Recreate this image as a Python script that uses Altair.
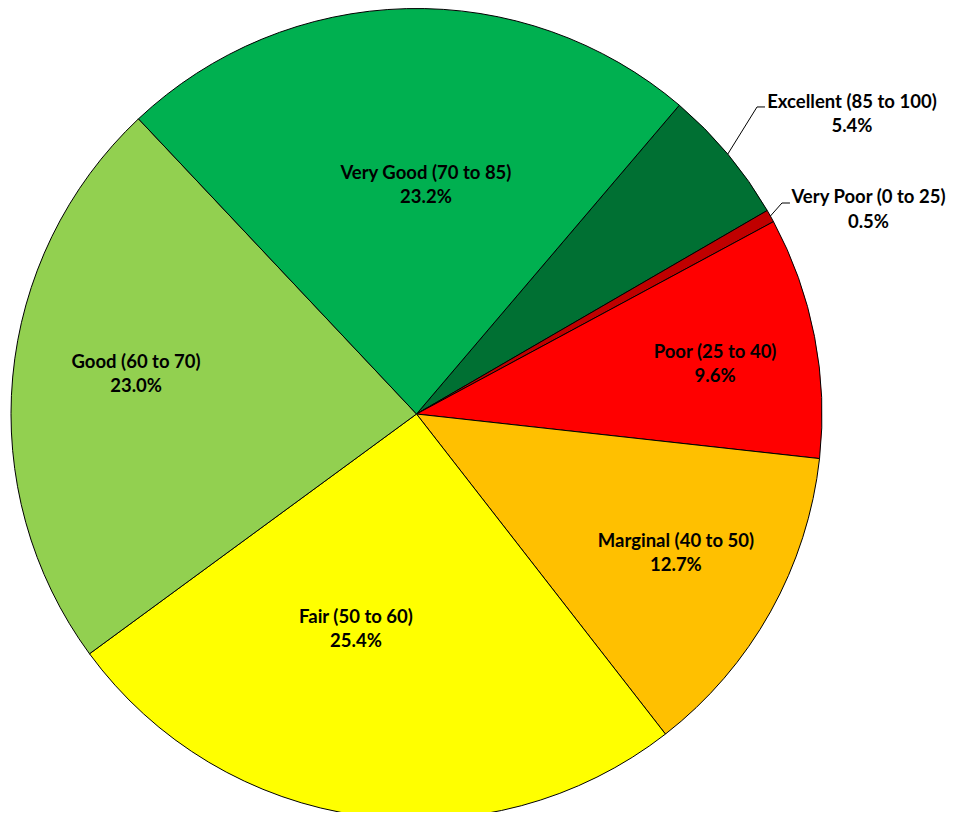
import math
import altair as alt
import pandas as pd

# ---- data ----
categories = ["Excellent (85 to 100)", "Very Poor (0 to 25)", "Poor (25 to 40)",
              "Marginal (40 to 50)", "Fair (50 to 60)", "Good (60 to 70)",
              "Very Good (70 to 85)"]
percents = [5.4, 0.5, 9.6, 12.7, 25.4, 23.0, 23.2]
colors = ["#007033", "#C00000", "#FF0000", "#FFC000", "#FFFF00", "#92D050", "#00B050"]

# ---- layout ----
W, H = 817, 812
R = 405.5
START_DEG = 40.4
LINE_H = 24.5
label_dtheta = [5.3, 4.9, 1.5, -1.0, 7.8, 2.9, 3.8]      # degrees from slice middle
label_radius = [528.8, 496.0, 302.7, 294.4, 223.3, 283.3, 229.2]
leader = {0: (458.5, 47.96), 1: (422.0, 60.0)}            # elbow (radius, deg)

total = sum(percents)
start = math.radians(START_DEG)

df = pd.DataFrame({"cat": categories, "pct": percents, "order": range(len(categories))})

rows = []
cum = 0.0
mids = []
for i, (c, p) in enumerate(zip(categories, percents)):
    mid = START_DEG + (cum + p / 2) / total * 360
    mids.append(mid)
    cum += p
    rows.append({"text": f"{c}\n{p:.1f}%", "theta": math.radians(mid + label_dtheta[i]),
                 "r": label_radius[i]})
lab = pd.DataFrame(rows)

def pt(r, deg):
    a = math.radians(deg)
    return W / 2 + r * math.sin(a), H / 2 - r * math.cos(a)

lines = []
for i, (er, edeg) in leader.items():
    x0, y0 = pt(R, mids[i])
    x1, y1 = pt(er, edeg)
    lines += [{"k": i, "s": 0, "x": x0, "y": y0},
              {"k": i, "s": 1, "x": x1, "y": y1},
              {"k": i, "s": 2, "x": x1 + 8, "y": y1}]
ld = pd.DataFrame(lines)

pie = alt.Chart(df).mark_arc(outerRadius=R, stroke="black", strokeWidth=1).encode(
    theta=alt.Theta("pct:Q", stack=True,
                    scale=alt.Scale(range=[start, start + 2 * math.pi])),
    color=alt.Color("cat:N", scale=alt.Scale(domain=categories, range=colors), legend=None),
    order=alt.Order("order:Q"),
)

labels = alt.Chart(lab).mark_text(
    font="Lato", fontWeight="bold", fontSize=18.5, lineBreak="\n", lineHeight=LINE_H,
    align="center", baseline="middle", color="black", dy=-LINE_H / 2
).encode(
    theta=alt.Theta("theta:Q", scale=None, stack=False),
    radius=alt.Radius("r:Q", scale=None),
    text="text:N",
)

leaders = alt.Chart(ld).mark_line(color="black", strokeWidth=1).encode(
    x=alt.X("x:Q", scale=None),
    y=alt.Y("y:Q", scale=None),
    detail="k:N",
    order="s:Q",
)

chart = alt.layer(pie, leaders, labels).properties(
    width=W, height=H,
    autosize=alt.AutoSizeParams(type="none"),
    padding={"left": 0, "top": 0, "right": 121, "bottom": -8},
).configure_view(stroke=None)

chart.save("out.html", embed_options={"renderer": "svg", "actions": False})
